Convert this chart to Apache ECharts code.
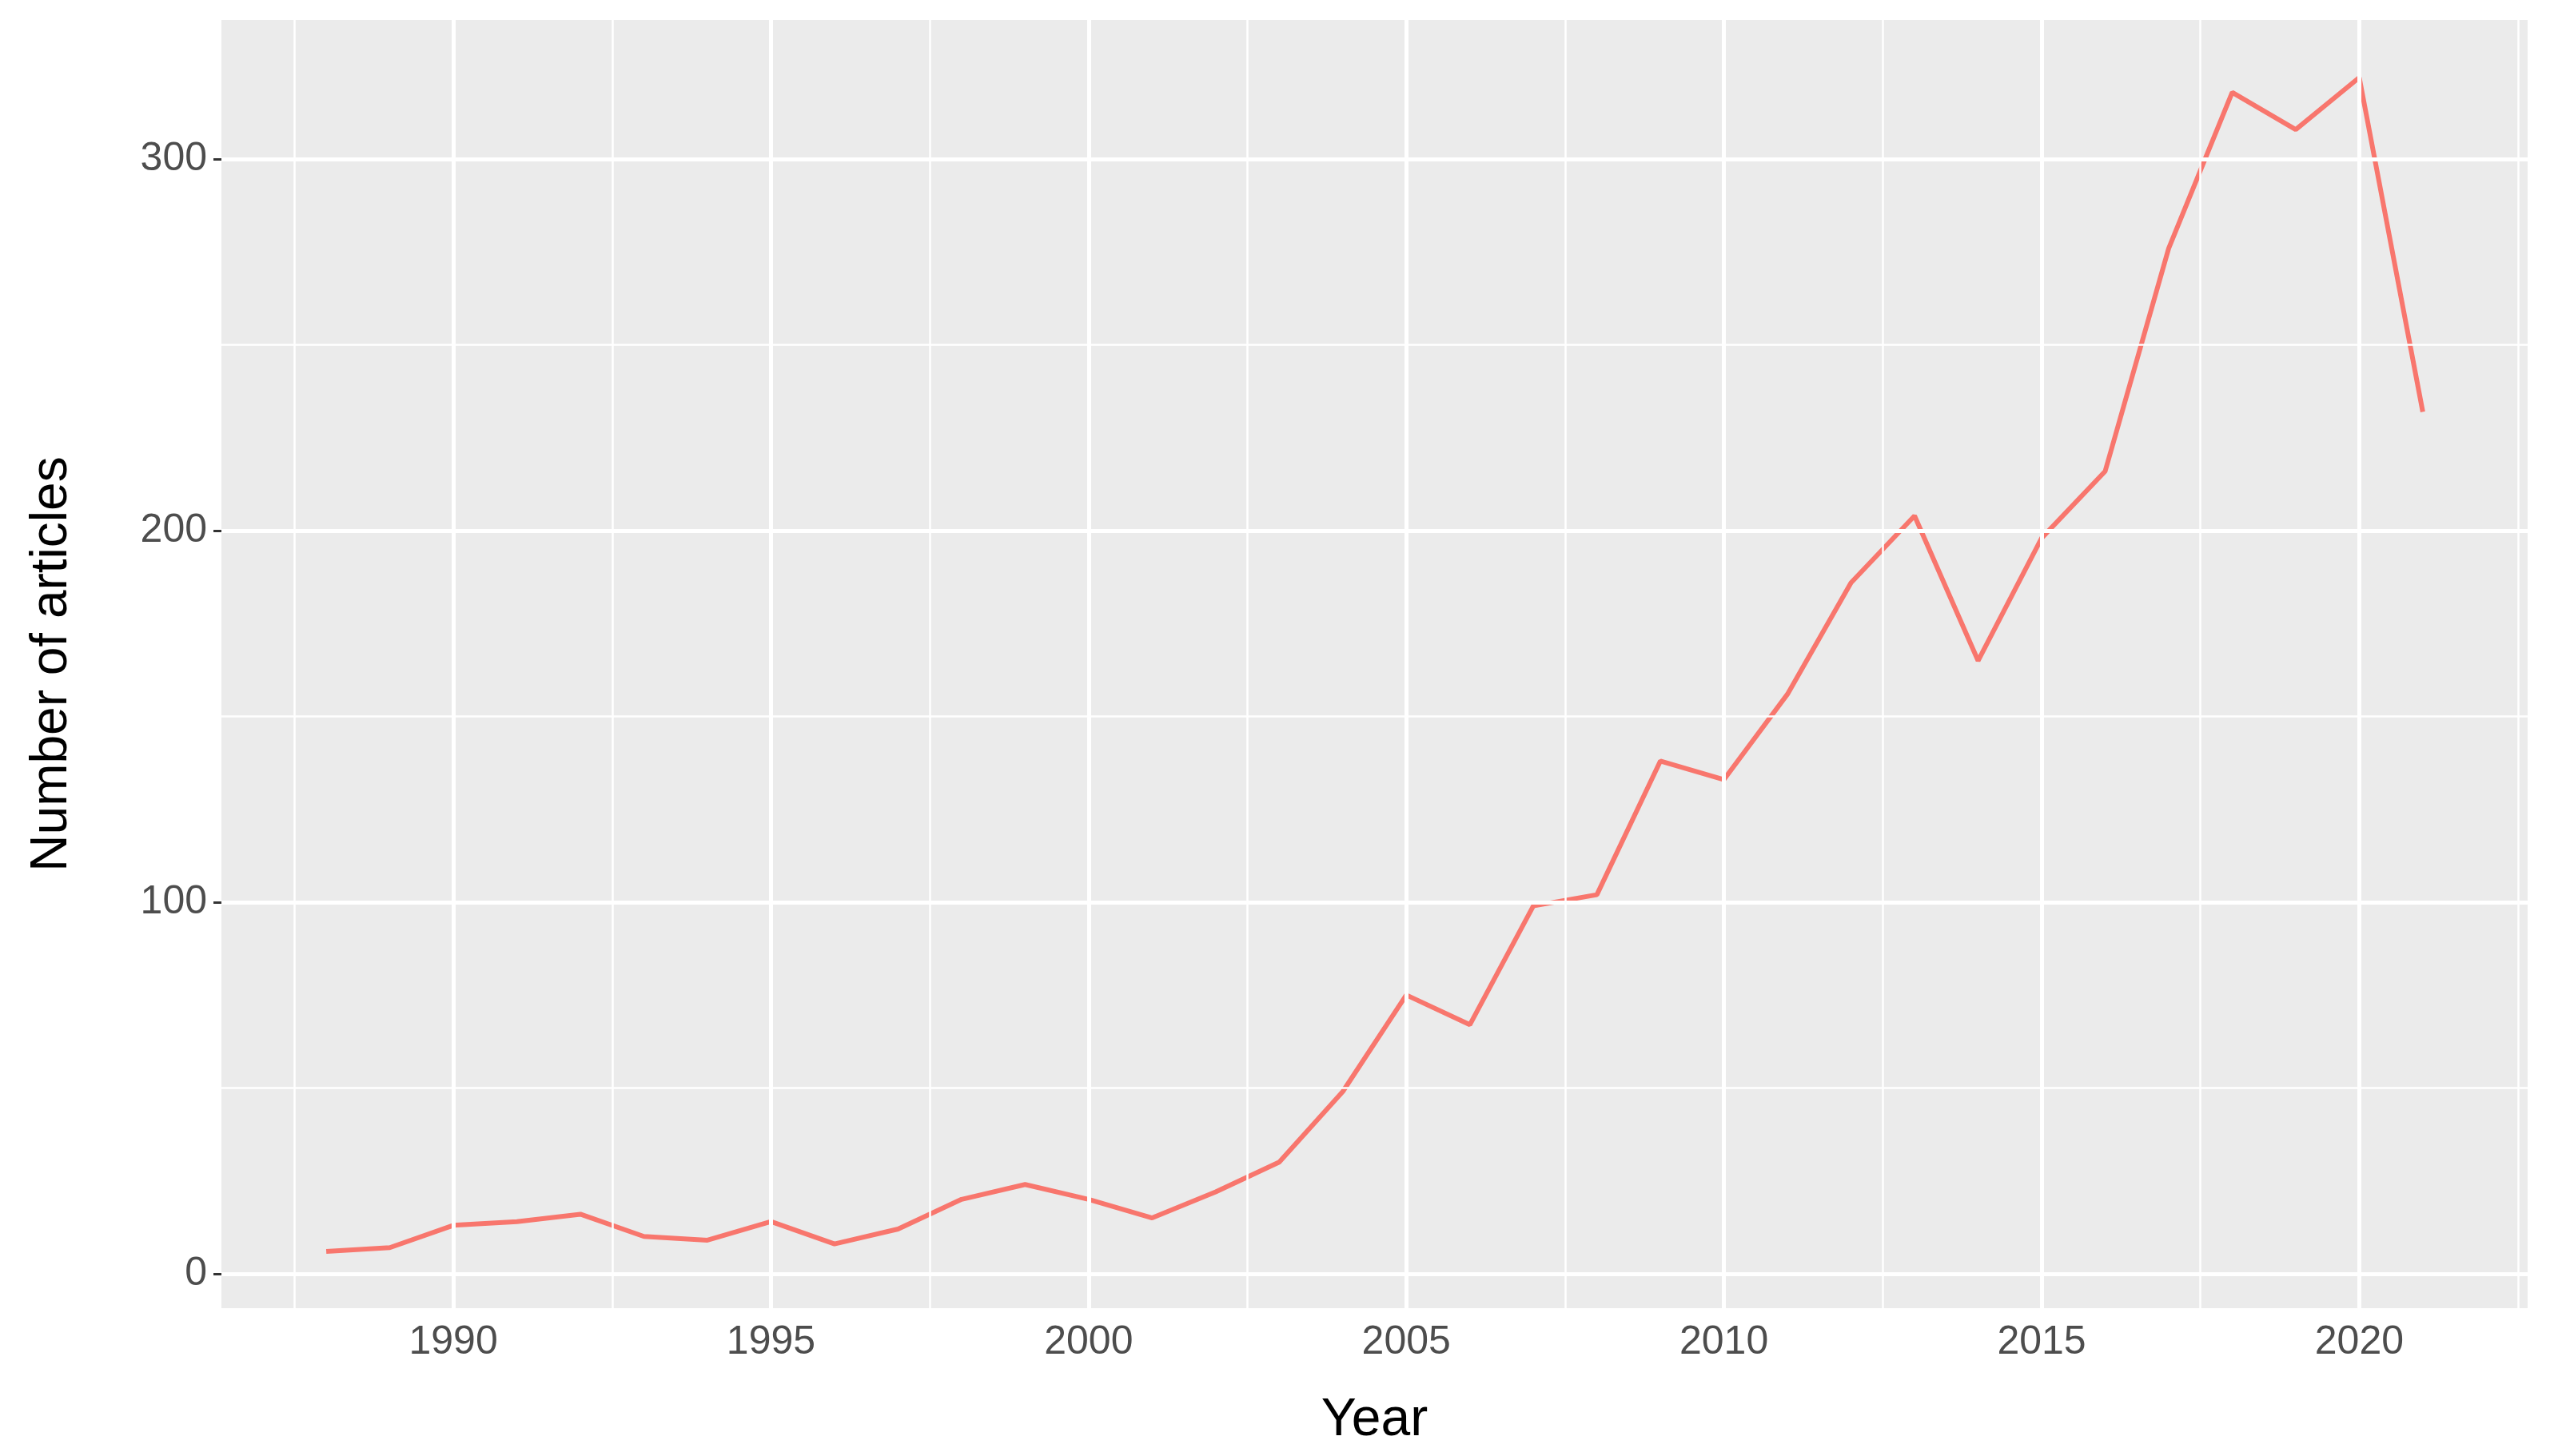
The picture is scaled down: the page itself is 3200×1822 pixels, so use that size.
<!DOCTYPE html>
<html>
<head>
<meta charset="utf-8">
<script src="https://cdn.jsdelivr.net/npm/echarts@6/dist/echarts.min.js"></script>
<style>html,body{margin:0;background:#fff}#chart{width:3200px;height:1822px}</style>
</head>
<body>
<div id="chart"></div>
<script>
var years = [1988,1989,1990,1991,1992,1993,1994,1995,1996,1997,1998,1999,2000,2001,2002,2003,2004,2005,2006,2007,2008,2009,2010,2011,2012,2013,2014,2015,2016,2017,2018,2019,2020,2021];
var articles = [6,7,13,14,16,10,9,14,8,12,20,24,20,15,22,30,49,75,67,99,102,138,133,156,186,204,165,198,216,276,318,308,322,232];
var xTicks = [1990,1995,2000,2005,2010,2015,2020];
var xMinor = [1987.5,1992.5,1997.5,2002.5,2007.5,2012.5,2017.5,2022.5];
var yTicks = [0,100,200,300];
var yMinor = [50,150,250];

var pts = years.map(function(y,i){ return [y, articles[i]]; });

var gridLines = [];
xMinor.forEach(function(v){ gridLines.push({xAxis:v, lineStyle:{width:2.5}}); });
yMinor.forEach(function(v){ gridLines.push({yAxis:v, lineStyle:{width:2.5}}); });
xTicks.forEach(function(v){ gridLines.push({xAxis:v, lineStyle:{width:5}}); });
yTicks.forEach(function(v){ gridLines.push({yAxis:v, lineStyle:{width:5}}); });

var chart = echarts.init(document.getElementById('chart'));
chart.setOption({
  animation:false,
  backgroundColor:'#fff',
  grid:{left:277, right:38, top:25, bottom:185, show:true, backgroundColor:'#EBEBEB', borderWidth:0},
  xAxis:{
    type:'value', min:1986.35, max:2022.65,
    name:'Year', nameLocation:'middle', nameGap:108,
    nameTextStyle:{fontFamily:'Liberation Sans', fontSize:66, color:'#000'},
    axisLine:{show:false},
    axisTick:{show:true, length:10, lineStyle:{color:'#333', width:3}, customValues:xTicks},
    axisLabel:{fontFamily:'Liberation Sans', fontSize:50, color:'#4d4d4d', margin:18, customValues:xTicks,
      formatter:function(v){ return String(v); }},
    splitLine:{show:false}
  },
  yAxis:{
    type:'value', min:-9.3, max:337.5,
    name:'Number of articles', nameLocation:'middle', nameGap:180,
    nameTextStyle:{fontFamily:'Liberation Sans', fontSize:64, color:'#000'},
    axisLine:{show:false},
    axisTick:{show:true, length:10, lineStyle:{color:'#333', width:3}, customValues:yTicks},
    axisLabel:{fontFamily:'Liberation Sans', fontSize:50, color:'#4d4d4d', margin:18, customValues:yTicks},
    splitLine:{show:false}
  },
  series:[
    {
      type:'line', data:pts, z:1, symbol:'none', lineStyle:{opacity:0}, silent:true,
      markLine:{silent:true, symbol:'none', label:{show:false},
        lineStyle:{color:'#fff', type:'solid'}, data:gridLines}
    },
    {
      type:'line', data:pts, z:3, symbol:'none',
      lineStyle:{color:'#F8766D', width:6}
    }
  ]
});
</script>
</body>
</html>
